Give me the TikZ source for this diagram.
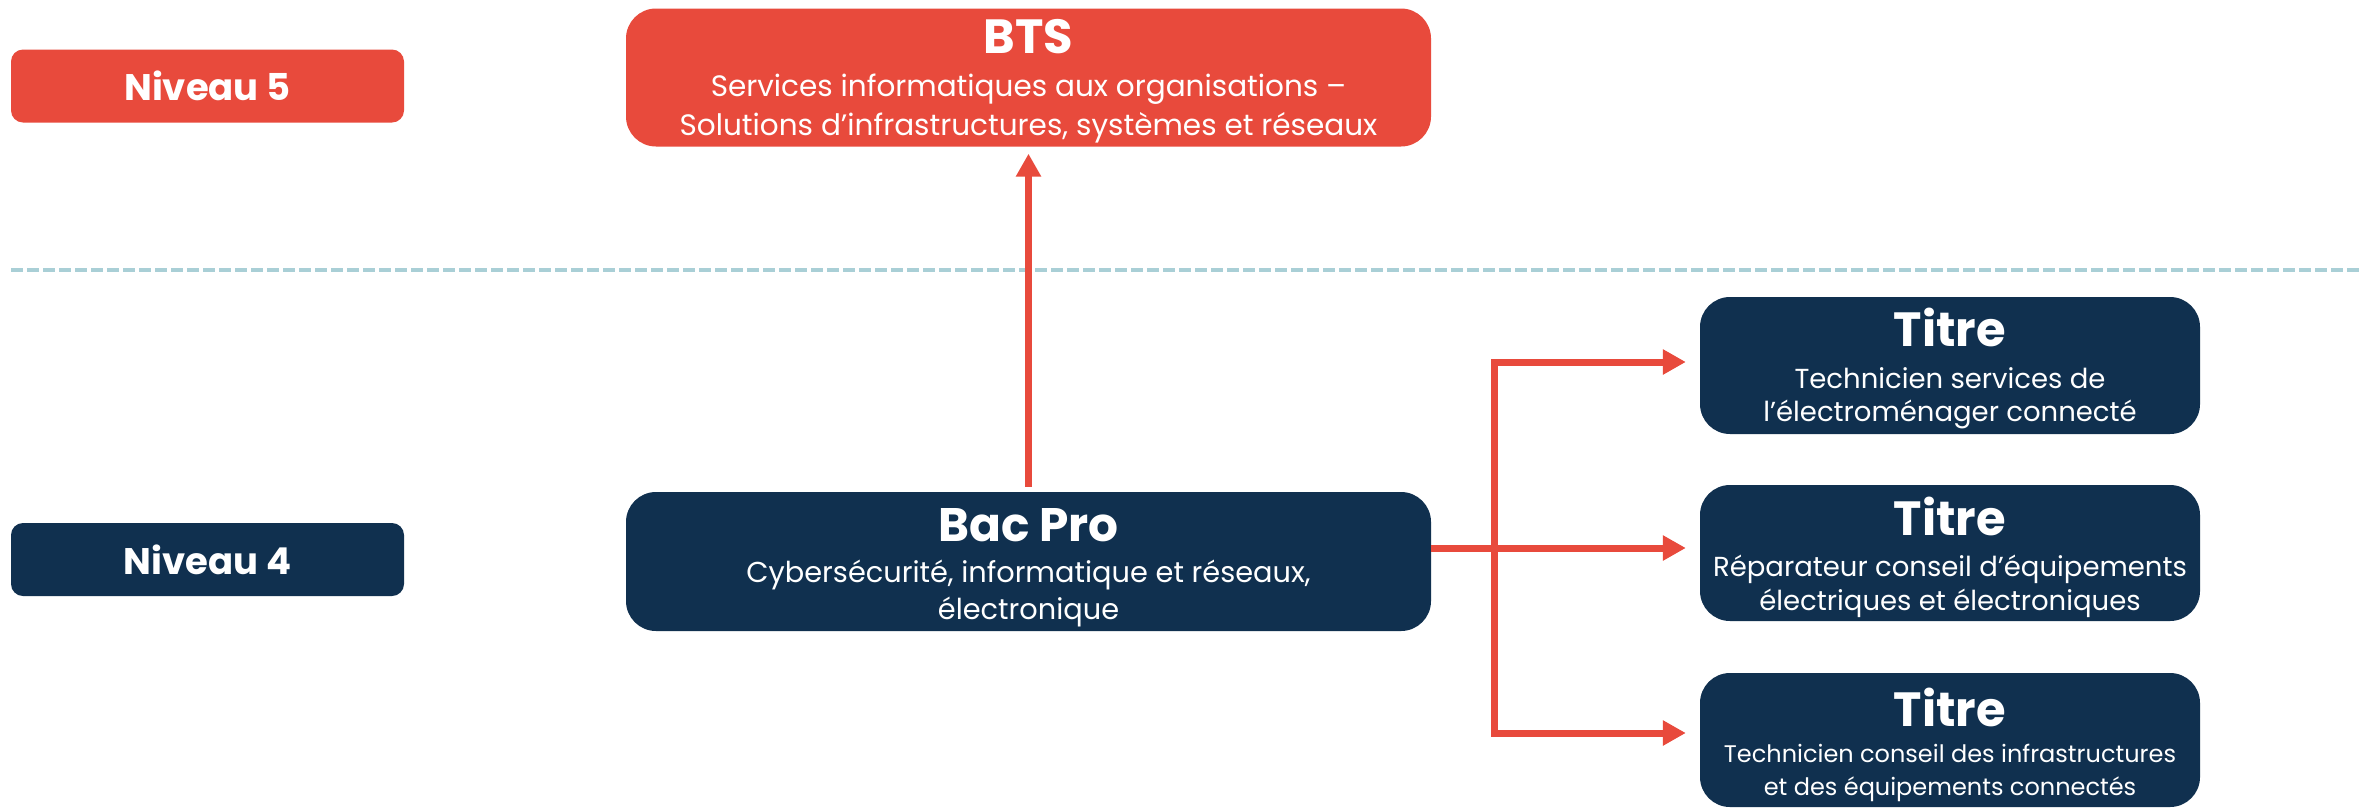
\documentclass[tikz,border=0pt]{standalone}
\usepackage{fontspec}
\setmainfont{Poppins}
\usetikzlibrary{arrows.meta,calc}
\definecolor{cred}{HTML}{E84A3C}
\definecolor{cnavy}{HTML}{10304F}
\definecolor{cdash}{HTML}{A9CFD6}
\begin{document}
\begin{tikzpicture}[x=1pt,y=-1pt,
  level/.style={rounded corners=12pt, minimum width=393pt, minimum height=73pt, inner sep=0pt,
    text=white, font=\fontsize{37}{44}\selectfont\bfseries},
  bigbox/.style={rounded corners=30pt, minimum width=805pt, minimum height=138pt, inner sep=0pt},
  titbox/.style={rounded corners=30pt, minimum width=500pt, minimum height=137pt, inner sep=0pt},
  head/.style={anchor=base, inner sep=0pt, text=white, font=\fontsize{#1}{#1}\selectfont\bfseries},
  sub/.style={anchor=base, inner sep=0pt, text=white, font=\fontsize{#1}{#1}\selectfont},
  conn/.style={draw=cred, line width=7pt, line join=miter},
  tip/.style={-{Triangle[width=24pt,length=23pt]}}
]
\useasboundingbox (0,0) rectangle (2359,807);
\fill[white] (0,0) rectangle (2359,807);

\draw[cdash, line width=4pt, dash pattern=on 12pt off 4pt] (11,270) -- (2359,270);

\node[level, fill=cred] (n5) at (207.5,86) {Niveau 5};
\node[level, fill=cnavy] (n4) at (207.5,559.5) {Niveau 4};

% BTS
\node[bigbox, fill=cred] (bts) at (1028.5,77.5) {};
\node[head=48] (bts-h) at (1028.5,53.3) {BTS};
\node[sub=29.5] (bts-a) at (1028.5,96.7) {Services informatiques aux organisations –};
\node[sub=29.5] (bts-b) at (1028.5,135) {Solutions d’infrastructures, systèmes et réseaux};

% Bac Pro
\node[bigbox, fill=cnavy, minimum height=139pt] (bac) at (1028.5,561.5) {};
\node[head=47] (bac-h) at (1028.5,541) {Bac Pro};
\node[sub=28.8] (bac-a) at (1028.5,582.7) {Cybersécurité, informatique et réseaux,};
\node[sub=28.8] (bac-b) at (1028.5,619.3) {électronique};

% Titres
\node[titbox, fill=cnavy] (t1) at (1950,365.5) {};
\node[head=48] (t1-h) at (1950,346.7) {Titre};
\node[sub=27.5] (t1-a) at (1950,388.3) {Technicien services de};
\node[sub=27.5] (t1-b) at (1950,421.7) {l’électroménager connecté};

\node[titbox, fill=cnavy, minimum height=136pt] (t2) at (1950,553) {};
\node[head=48] (t2-h) at (1950,535.5) {Titre};
\node[sub=27.5] (t2-a) at (1950,576) {Réparateur conseil d’équipements};
\node[sub=27.5] (t2-b) at (1950,610.5) {électriques et électroniques};

\node[titbox, fill=cnavy, minimum height=134pt] (t3) at (1950,740) {};
\node[head=48] (t3-h) at (1950,726.7) {Titre};
\node[sub=24] (t3-a) at (1950,762.7) {Technicien conseil des infrastructures};
\node[sub=24] (t3-b) at (1950,795) {et des équipements connectés};

\coordinate (jt) at (1494,362);
\coordinate (jm) at (1494,548);
\coordinate (jb) at (1494,733);

\draw[conn, tip] ([yshift=5pt]bac.north) -- ([yshift=-7pt]bts.south);
\draw[conn, tip] (bac.east |- jm) -- ($(t2.west |- jm)+(-14,0)$);
\draw[conn, {Triangle[width=24pt,length=23pt]}-{Triangle[width=24pt,length=23pt]}]
  ($(t1.west |- jt)+(-14,0)$) -- (jt) -- (jb) -- ($(t3.west |- jb)+(-14,0)$);
\end{tikzpicture}
\end{document}
